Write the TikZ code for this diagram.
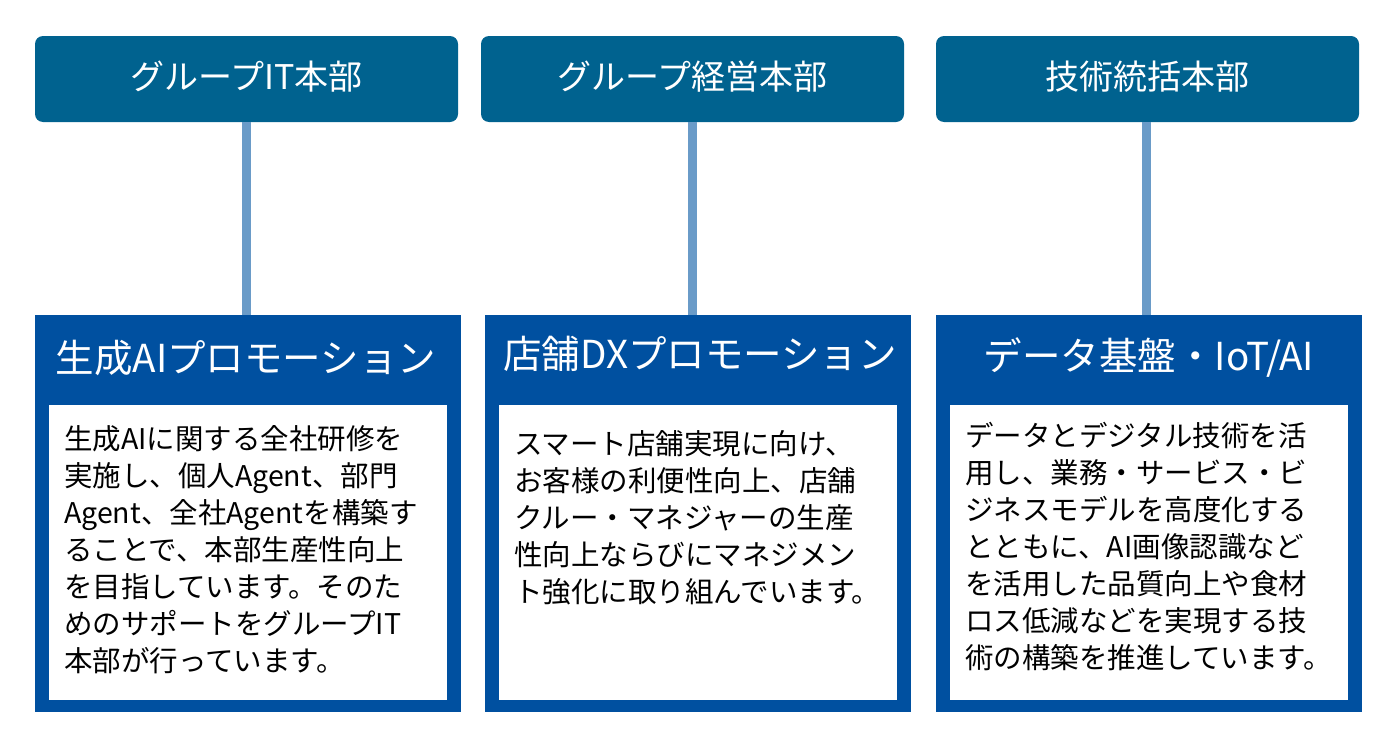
\documentclass[tikz,border=0pt]{standalone}
\usepackage{fontspec}
\setmainfont{Noto Sans CJK JP}
\begin{document}
\begin{tikzpicture}[x=1pt,y=-1pt,
 hdr/.style={fill=hd,rounded corners=8pt,draw=none},
 big/.style={fill=bx,draw=none},
 inner/.style={fill=white,draw=none},
 link/.style={draw=ln,line width=9pt},
 htext/.style={text=white,font=\fontsize{34}{38}\selectfont},
 ttext/.style={text=white,font=\fontsize{38.5}{42}\selectfont},
 btext/.style={text=black,anchor=north west,align=left,inner sep=0pt,font=\fontsize{28.5}{37}\selectfont}]
\definecolor{hd}{HTML}{00628F}
\definecolor{bx}{HTML}{0050A0}
\definecolor{ln}{HTML}{6A9BC8}
\useasboundingbox (0,0) rectangle (1400,744);
% headers
\path[hdr] (35,36) rectangle (458,122); \node[htext] (h1) at (246.5,77) {グループIT本部};
\path[hdr] (481,36) rectangle (904,122); \node[htext] (h2) at (692.5,77) {グループ経営本部};
\path[hdr] (936,36) rectangle (1359,122); \node[htext] (h3) at (1147.5,77) {技術統括本部};
% links
\coordinate (a1) at (246,122); \coordinate (b1) at (246,315);
\coordinate (a2) at (692,122); \coordinate (b2) at (692,315);
\coordinate (a3) at (1146,122); \coordinate (b3) at (1146,315);
\draw[link] (a1) -- (b1); \draw[link] (a2) -- (b2); \draw[link] (a3) -- (b3);
% boxes
\path[big] (35,315) rectangle (461,712); \path[inner] (49,405) rectangle (447,700);
\path[big] (485,315) rectangle (911,712); \path[inner] (499,405) rectangle (897,700);
\path[big] (936,315) rectangle (1362,712); \path[inner] (950,405) rectangle (1348,700);
\node[ttext] (t1) at (246,358) {生成AIプロモーション};
\node[ttext] (t2) at (700,354) {店舗DXプロモーション};
\node[ttext] (t3) at (1149,358) {データ基盤・IoT/AI};
\node[btext] (p1) at (64,425) {生成AIに関する全社研修を\\実施し、個人Agent、部門\\Agent、全社Agentを構築す\\ることで、本部生産性向上\\を目指しています。そのた\\めのサポートをグループIT\\本部が行っています。};
\node[btext] (p2) at (514,430) {スマート店舗実現に向け、\\お客様の利便性向上、店舗\\クルー・マネジャーの生産\\性向上ならびにマネジメン\\ト強化に取り組んでいます。};
\node[btext] (p3) at (965,422) {データとデジタル技術を活\\用し、業務・サービス・ビ\\ジネスモデルを高度化する\\とともに、AI画像認識など\\を活用した品質向上や食材\\ロス低減などを実現する技\\術の構築を推進しています。};
\end{tikzpicture}
\end{document}
